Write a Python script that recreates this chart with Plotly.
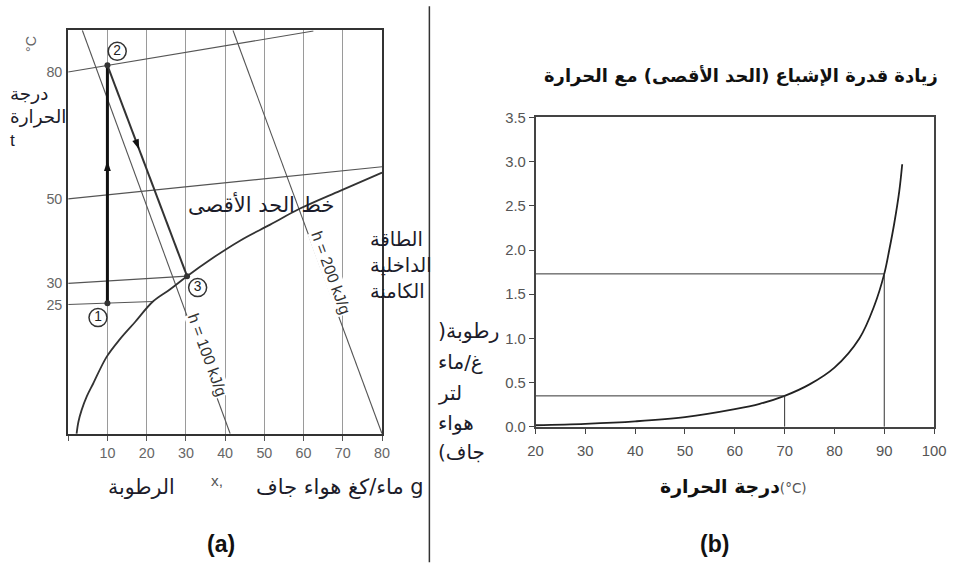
import plotly.graph_objects as go

W, H = 969, 563
# observed photo transform: photo = A*page + B  -> place items by inverting it
A_X, B_X = 0.978, 8.2
A_Y, B_Y = 0.975, 6.7
S = 1 / 0.977  # font compensation

# ---------------- Panel (a): h-x (Mollier) diagram ----------------
xa_ticks = [0, 10, 20, 30, 40, 50, 60, 70, 80]
xa_ticktext = ["", "10", "20", "30", "40", "50", "60", "70", "80"]
iso_temps = [80, 50, 30, 25]            # isotherm labels (°C) at x = 0
iso_x_end = [62.5, 80.0, 30.3, 21.6]
iso_t_end = [89.7, 57.6, 31.7, 25.7]

sat_x = [2.14, 2.6, 3.42, 4.77, 6.38, 9.8, 13.2, 17.0, 21.6, 26.0, 30.3, 36.2, 43.8, 51.5, 59.1, 69.3, 80.0]
sat_t = [-5.6, -2.8, 0.0, 3.3, 6.3, 12.6, 16.8, 20.8, 25.7, 28.6, 31.7, 35.6, 40.1, 43.9, 47.7, 51.9, 56.2]

h_labels = ["h = 100 kJ/g", "h = 200 kJ/g"]
h_x_top = [3.6, 42.0]
h_x_bot = [41.3, 80.0]
h_t_top = [89.9, 89.9]
h_t_bot = [-5.6, -5.6]
h_lab_x = [35.6, 67.0]
h_lab_t = [13.0, 32.6]

proc_names = ["1", "2", "3"]
proc_x = [10.0, 10.0, 30.3]
proc_t = [25.3, 81.6, 31.7]
circ_x = [7.6, 12.5, 33.0]
circ_t = [21.9, 84.9, 29.0]

# ---------------- Panel (b): saturation capacity vs temperature ----------------
temp_b = [20, 30, 40, 50, 60, 65, 70, 75, 80, 85, 88, 90, 91, 92, 93, 93.6]
hum_b = [0.018, 0.034, 0.062, 0.11, 0.2, 0.26, 0.35, 0.48, 0.67, 1.0, 1.37, 1.73, 2.0, 2.3, 2.66, 2.97]
ref_temp = [70, 90]
ref_hum = [0.35, 1.73]
xb_ticks = [20, 30, 40, 50, 60, 70, 80, 90, 100]
yb_ticks = [0.0, 0.5, 1.0, 1.5, 2.0, 2.5, 3.0, 3.5]

AR = "DejaVu Sans"
LAT = "Liberation Sans, Arial, sans-serif"
NARROW = "Liberation Sans Narrow, Arial Narrow, Liberation Sans, sans-serif"
TXT = "#1c1c2a"
RLM = "\u200f"

fig = go.Figure()

# isotherms
for t0, xe, te in zip(iso_temps, iso_x_end, iso_t_end):
    fig.add_trace(go.Scatter(x=[0, xe], y=[t0, te], mode="lines",
                             line=dict(color="#555", width=1.1), xaxis="x", yaxis="y",
                             showlegend=False, hoverinfo="skip"))
# enthalpy lines
for xt, xb, tt, tb in zip(h_x_top, h_x_bot, h_t_top, h_t_bot):
    fig.add_trace(go.Scatter(x=[xt, xb], y=[tt, tb], mode="lines",
                             line=dict(color="#555", width=1.1), xaxis="x", yaxis="y",
                             showlegend=False, hoverinfo="skip"))
# saturation curve
fig.add_trace(go.Scatter(x=sat_x, y=sat_t, mode="lines", line=dict(color="#333", width=1.8, shape="spline"),
                         xaxis="x", yaxis="y", showlegend=False, hoverinfo="skip"))
# process 1 -> 2 (heating) and 2 -> 3 (adiabatic cooling)
fig.add_trace(go.Scatter(x=proc_x[0:2], y=proc_t[0:2], mode="lines", line=dict(color="#111", width=3),
                         xaxis="x", yaxis="y", showlegend=False, hoverinfo="skip"))
fig.add_trace(go.Scatter(x=proc_x[1:3], y=proc_t[1:3], mode="lines", line=dict(color="#333", width=2),
                         xaxis="x", yaxis="y", showlegend=False, hoverinfo="skip"))
# arrowheads
ax1 = proc_x[0]
ay1 = proc_t[0] + 0.6 * (proc_t[1] - proc_t[0])
ax2 = proc_x[1] + 0.4 * (proc_x[2] - proc_x[1])
ay2 = proc_t[1] + 0.4 * (proc_t[2] - proc_t[1])
fig.add_trace(go.Scatter(x=[ax1, ax2], y=[ay1, ay2], mode="markers",
                         marker=dict(symbol="arrow", size=11, angle=[0, 159], color="#111",
                                     line=dict(width=0)),
                         xaxis="x", yaxis="y", showlegend=False, hoverinfo="skip"))
# state points
fig.add_trace(go.Scatter(x=proc_x, y=proc_t, mode="markers",
                         marker=dict(size=6, color="#333"), xaxis="x", yaxis="y",
                         showlegend=False, hoverinfo="skip"))
# circled numbers
fig.add_trace(go.Scatter(x=circ_x, y=circ_t, mode="markers+text", text=proc_names,
                         textposition="middle center",
                         textfont=dict(family=LAT, size=13.5 * S, color="#222"),
                         marker=dict(symbol="circle", size=18, color="white",
                                     line=dict(color="#333", width=1.5)),
                         xaxis="x", yaxis="y", showlegend=False, hoverinfo="skip"))

# panel b
fig.add_trace(go.Scatter(x=temp_b, y=hum_b, mode="lines", line=dict(color="#222", width=1.8, shape="spline"),
                         xaxis="x2", yaxis="y2", showlegend=False, hoverinfo="skip"))
for tr, hr in zip(ref_temp, ref_hum):
    fig.add_trace(go.Scatter(x=[xb_ticks[0], tr, tr], y=[hr, hr, 0], mode="lines",
                             line=dict(color="#333", width=1), xaxis="x2", yaxis="y2",
                             showlegend=False, hoverinfo="skip"))


def P(px, py):
    """target photo pixel -> paper coordinate"""
    X = (px - B_X) / A_X
    Y = (py - B_Y) / A_Y
    return X / W, 1 - Y / H


anns = []


def txt(px, py, s, size, color=TXT, family=AR, xanchor="center", angle=0):
    x, y = P(px, py)
    anns.append(dict(x=x, y=y, xref="paper", yref="paper", text=s, showarrow=False,
                     xanchor=xanchor, yanchor="middle", textangle=angle,
                     font=dict(family=family, size=size * S, color=color)))


# h labels on the enthalpy lines
for lab, lx, lt in zip(h_labels, h_lab_x, h_lab_t):
    anns.append(dict(x=lx, y=lt, xref="x", yref="y", text=lab, showarrow=False, textangle=70,
                     bgcolor="white", borderpad=0, font=dict(family=LAT, size=15.5 * S, color="#333")))

# left panel texts
txt(31, 43, "°C", 14, color="#666", family=LAT, angle=-90)
txt(8, 92, "درجة", 18, xanchor="left")
txt(8, 116, "الحرارة", 18, xanchor="left")
txt(8, 139, "t", 17, xanchor="left", family=LAT)
txt(261, 204, "خط الحد الأقصى", 20.5)
txt(368, 239, "الطاقة", 19, xanchor="left")
txt(368, 265, "الداخلية", 19, xanchor="left")
txt(368, 291, "الكامنة", 19, xanchor="left")
txt(142, 487, "الرطوبة", 20)
txt(217, 481, "x,", 15, color="#555", family=LAT)
txt(426, 487, "ماء/كغ هواء جاف g", 20.5, xanchor="right")
txt(221, 545, "<b>(a)</b>", 22.5, color="#111", family=LAT)

# right panel texts
txt(740, 75, "<b>زيادة قدرة الإشباع (الحد الأقصى) مع الحرارة</b>", 17.5, color="#111")
txt(733, 487, "<b>درجة الحرارة</b><span style='font-size:13.5px;color:#555'>(°C)</span>", 18.5, color="#111")
txt(436, 331, "رطوبة(" + RLM, 20, xanchor="left")
txt(436, 362, "غ/ماء", 19.5, xanchor="left")
txt(436, 393, "لتر", 19.5, xanchor="left")
txt(436, 423, "هواء", 19.5, xanchor="left")
txt(436, 452, "جاف)" + RLM, 19.5, xanchor="left")
txt(714, 545, "<b>(b)</b>", 22.5, color="#111", family=LAT)

xa0, ya0 = P(68.3, 434)
xa1, ya1 = P(381.7, 29)
xb0, yb0 = P(535, 427)
xb1, yb1 = P(933, 116.5)
dx, dy1 = P(429, 5)
_, dy0 = P(429, 563)

fig.update_layout(
    width=W, height=H, autosize=False,
    margin=dict(l=0, r=0, t=0, b=0),
    paper_bgcolor="white", plot_bgcolor="white",
    annotations=anns,
    shapes=[dict(type="line", xref="paper", yref="paper", x0=dx, x1=dx, y0=dy0, y1=dy1,
                 line=dict(color="#333", width=1.5))],
    xaxis=dict(domain=[xa0, xa1], range=[0, 80], tickvals=xa_ticks, ticktext=xa_ticktext,
               ticks="outside", ticklen=5, tickcolor="#555", showgrid=True, gridcolor="#9a9a9a", gridwidth=1.3,
               zeroline=False, showline=True, mirror=True, linecolor="#333", linewidth=2,
               tickfont=dict(family=NARROW, size=14 * S, color="#666"), anchor="y"),
    yaxis=dict(domain=[ya0, ya1], range=[-5.6, 89.9], tickvals=iso_temps, ticktext=[str(t) for t in iso_temps],
               ticks="", showgrid=False, zeroline=False, showline=True, mirror=True, linecolor="#333",
               linewidth=2, ticklabelstandoff=1,
               tickfont=dict(family=NARROW, size=14 * S, color="#666"), anchor="x"),
    xaxis2=dict(domain=[xb0, xb1], range=[20, 100], tickvals=xb_ticks, ticks="outside", ticklen=5,
                tickcolor="#444", showgrid=False, zeroline=False, showline=True, mirror=True,
                linecolor="#444", linewidth=1.5, ticklabelstandoff=5,
                tickfont=dict(family=LAT, size=14.5 * S, color="#555"), anchor="y2"),
    yaxis2=dict(domain=[yb0, yb1], range=[0, 3.5], tickvals=yb_ticks, tickformat=".1f", ticks="outside",
                ticklen=5, tickcolor="#444", showgrid=False, zeroline=False, showline=True, mirror=True,
                linecolor="#444", linewidth=1.5, tickfont=dict(family=LAT, size=14.5 * S, color="#555"), anchor="x2"),
)

fig.write_html("out.html", config={"displayModeBar": False},
               post_script="document.body.style.margin='0px';document.body.style.overflow='hidden';")
